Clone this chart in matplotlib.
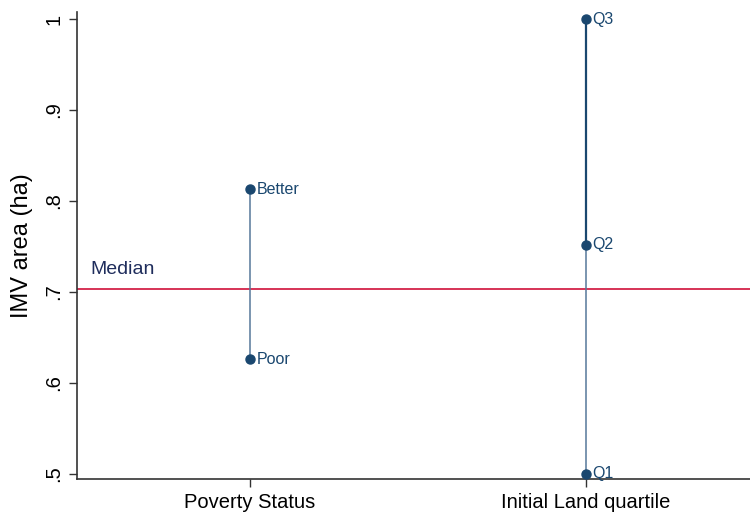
import matplotlib
matplotlib.use('Agg')
from matplotlib import pyplot as plt

plt.rcParams['font.family'] = ['Liberation Sans', 'DejaVu Sans']

categories = ['Poverty Status', 'Initial Land quartile']
poverty_labels = ['Poor', 'Better']
poverty_values = [0.626, 0.813]
land_labels = ['Q1', 'Q2', 'Q3']
land_values = [0.5, 0.752, 1.0]
median_value = 0.703
yticks = [0.5, 0.6, 0.7, 0.8, 0.9, 1.0]
ytick_labels = ['.5', '.6', '.7', '.8', '.9', '1']

navy = '#1a476f'
thin = '#56789a'
red = '#d0103a'

fig = plt.figure(figsize=(7.5, 5.15), dpi=100)
ax = fig.add_axes([77 / 750, 1 - 479 / 515, 673 / 750, (479 - 12) / 515])

ax.axhline(median_value, color=red, linewidth=1.2, zorder=1)
ax.text(0.525, median_value + 0.012, 'Median', color='#1f2d5c', fontsize=14,
        va='bottom', ha='left')

# poverty status
ax.plot([1, 1], poverty_values, color=thin, linewidth=1.1, zorder=2)
ax.plot([1, 1], poverty_values, 'o', color=navy, markersize=6.5, zorder=3)
for lab, v in zip(poverty_labels, poverty_values):
    ax.annotate(lab, (1, v), xytext=(5, 0), textcoords='offset points',
                va='center', ha='left', fontsize=11.5, color=navy)

# land quartiles
ax.plot([2, 2], [land_values[0], land_values[2]], color=thin, linewidth=1.1, zorder=2)
ax.plot([2, 2], [land_values[1], land_values[2]], color=navy, linewidth=1.6, zorder=2)
ax.plot([2] * 3, land_values, 'o', color=navy, markersize=6.5, zorder=3, clip_on=False)
for lab, v in zip(land_labels, land_values):
    ax.annotate(lab, (2, v), xytext=(5, 0), textcoords='offset points',
                va='center', ha='left', fontsize=11.5, color=navy)

ax.set_xlim(0.485, 2.49)
ax.set_ylim(0.4945, 1.0077)
ax.set_xticks([1, 2])
ax.set_xticklabels(categories, fontsize=14.5)
ax.set_yticks(yticks)
ax.set_yticklabels(ytick_labels, rotation=90, va='center', fontsize=14.5)
ax.set_ylabel('IMV area (ha)', fontsize=17, labelpad=8)

for s in ['top', 'right']:
    ax.spines[s].set_visible(False)
for s in ['left', 'bottom']:
    ax.spines[s].set_color('#333333')
    ax.spines[s].set_linewidth(1.2)
ax.tick_params(axis='both', length=6, width=1, color='#333333', pad=4)

plt.savefig('out.png', dpi=100)
plt.close(fig)
